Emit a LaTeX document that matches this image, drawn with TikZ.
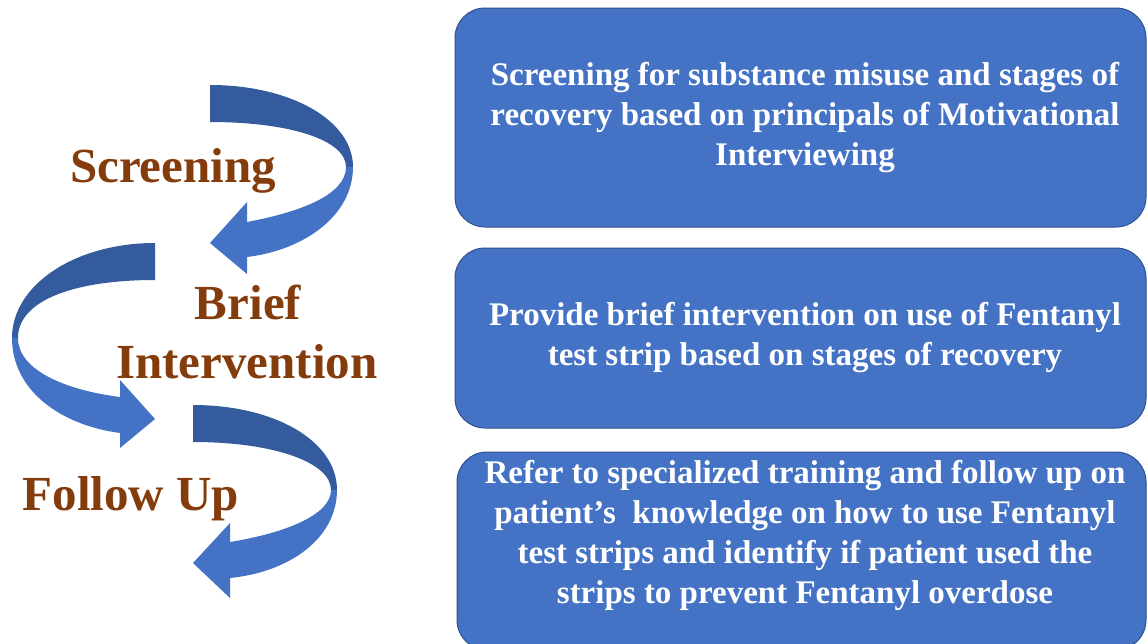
\documentclass[tikz,border=0pt]{standalone}
\usepackage{fontspec}
\setmainfont{Liberation Serif}
\definecolor{boxblue}{RGB}{68,114,196}
\definecolor{boxedge}{RGB}{47,82,143}
\definecolor{ribdark}{RGB}{52,91,157}
\definecolor{riblight}{RGB}{68,114,196}
\definecolor{labelbrown}{RGB}{132,60,12}
\tikzset{
  infobox/.style={fill=boxblue, draw=boxedge, line width=1pt, rounded corners=30pt},
  infotext/.style={text=white, align=center, font=\bfseries\fontsize{33}{40}\selectfont, inner sep=0pt},
  steplabel/.style={text=labelbrown, font=\bfseries\fontsize{49}{59}\selectfont, inner sep=0pt, anchor=base},
  ribbondark/.style={fill=ribdark, draw=none},
  ribbonlight/.style={fill=riblight, draw=none}
}
\begin{document}
\begin{tikzpicture}[x=1pt,y=-1pt]
\useasboundingbox (0,0) rectangle (1148,643);
\clip (0,0) rectangle (1148,643);
\fill[white] (0,0) rectangle (1148,643);

% boxes
\draw[infobox] (455,8) rectangle (1146,227);
\draw[infobox] (455,248) rectangle (1146,428);
\draw[infobox] (457,452) rectangle (1146,650);

\node[infotext] (t1) at (805,118) {Screening for substance misuse and stages of\\recovery based on principals of Motivational\\Interviewing};
\node[infotext] (t2) at (805,338) {Provide brief intervention on use of Fentanyl\\test strip based on stages of recovery};
\node[infotext] (t3) at (805,535) {Refer to specialized training and follow up on\\patient’s\ \ knowledge on how to use Fentanyl\\test strips and identify if patient used the\\strips to prevent Fentanyl overdose};

% arrow 1 (turning right)
\fill[ribbondark] (210,85) .. controls (290,85) and (353,120) .. (353,167) -- (346,167) .. controls (346,140) and (290,122) .. (210,122) -- cycle;
\fill[ribbonlight] (353,167) .. controls (353,215) and (305,250) .. (247,257) -- (247,274) -- (210,243) -- (247,202) -- (247,222) .. controls (300,212) and (346,195) .. (346,167) -- cycle;

% arrow 2 (turning left)
\fill[ribbondark] (155,243) .. controls (75,243) and (12,285) .. (12,338) -- (18,338) .. controls (18,300) and (75,280) .. (155,280) -- cycle;
\fill[ribbonlight] (12,338) .. controls (12,390) and (60,425) .. (120,433) -- (120,448) -- (155,419) -- (120,380) -- (120,397) .. controls (65,390) and (18,370) .. (18,338) -- cycle;

% arrow 3 (turning right)
\fill[ribbondark] (193,405) .. controls (273,405) and (337,440) .. (337,490) -- (331,490) .. controls (331,462) and (273,442) .. (193,442) -- cycle;
\fill[ribbonlight] (337,490) .. controls (337,538) and (290,572) .. (230,578) -- (230,598) -- (193,563) -- (230,523) -- (230,542) .. controls (285,533) and (331,515) .. (331,490) -- cycle;

% labels
\node[steplabel] (screening) at (173,182) {Screening};
\node[steplabel] (brief) at (248,319) {Brief};
\node[steplabel] (intervention) at (247,378) {Intervention};
\node[steplabel] (followup) at (131,510) {Follow Up};
\end{tikzpicture}
\end{document}
